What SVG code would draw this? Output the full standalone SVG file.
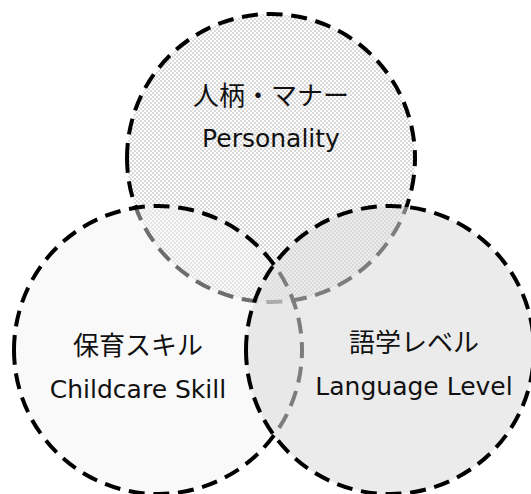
<svg xmlns="http://www.w3.org/2000/svg" width="531" height="494" viewBox="0 0 531 494">
<defs>
<pattern id="checker" width="4" height="4" patternUnits="userSpaceOnUse">
<rect width="4" height="4" fill="#ffffff"/>
<rect x="0" y="0" width="2" height="2" fill="#d9d9d9"/>
<rect x="2" y="2" width="2" height="2" fill="#d9d9d9"/>
</pattern>
</defs>
<style>
.ring{stroke:#000;stroke-width:4;stroke-dasharray:16 8.74;stroke-dashoffset:1}
.jp{font-family:"Noto Sans CJK JP","Noto Sans CJK SC",sans-serif;font-size:26px;fill:#111;text-anchor:middle}
.en{font-family:"DejaVu Sans","Noto Sans",sans-serif;font-size:25px;fill:#111;text-anchor:middle}
</style>
<rect width="531" height="494" fill="#ffffff"/>
<g id="node-personality">
<path class="ring" fill="url(#checker)" d="M127 158 A144 144 0 1 1 415 158 A144 144 0 1 1 127 158 Z"/>
<text class="jp" x="271" y="105">人柄・マナー</text>
<text class="en" x="271" y="147">Personality</text>
</g>
<g id="node-childcare">
<path class="ring" fill="#f2f2f2" fill-opacity="0.45" d="M14 350 A144 144 0 1 1 302 350 A144 144 0 1 1 14 350 Z"/>
<text class="jp" x="138" y="355">保育スキル</text>
<text class="en" x="138" y="398">Childcare Skill</text>
</g>
<g id="node-language">
<path class="ring" fill="#dbdbdb" fill-opacity="0.57" d="M246 350 A144 144 0 1 1 534 350 A144 144 0 1 1 246 350 Z"/>
<text class="jp" x="414" y="352">語学レベル</text>
<text class="en" x="414" y="395">Language Level</text>
</g>
</svg>
